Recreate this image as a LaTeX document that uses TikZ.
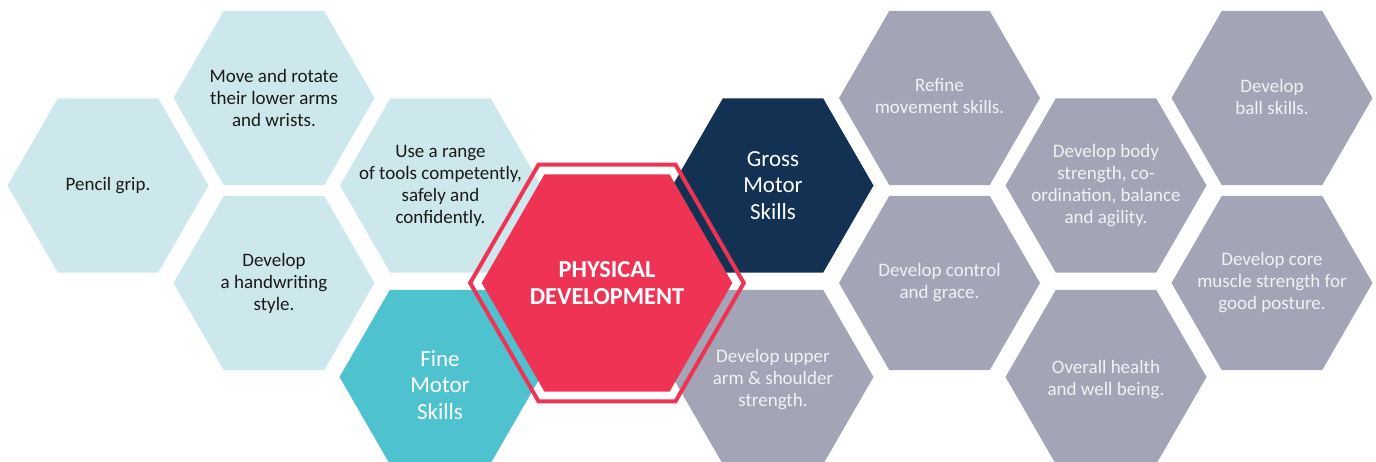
\documentclass[tikz,border=0pt]{standalone}
\usepackage{fontspec}
\setmainfont{Carlito}
\usetikzlibrary{shapes.geometric}
\definecolor{lteal}{HTML}{CDE8EC}
\definecolor{fteal}{HTML}{4EC3CF}
\definecolor{navy}{HTML}{133153}
\definecolor{pred}{HTML}{EE3354}
\definecolor{hgray}{HTML}{A3A4B6}
\definecolor{dtext}{HTML}{1A1A1A}
\definecolor{gtext}{HTML}{F2F2F6}
\begin{document}
\begin{tikzpicture}[x=1pt,y=-1pt,
  hexa/.style={regular polygon, regular polygon sides=6, minimum size=201pt, inner sep=0pt, outer sep=0pt, draw=none},
  light/.style={hexa, fill=lteal},
  grayhex/.style={hexa, fill=hgray},
  txt/.style={align=center, inner sep=0pt, font=\fontsize{19}{22}\selectfont, text=dtext},
  gtxt/.style={txt, text=gtext},
  bigtxt/.style={align=center, inner sep=0pt, font=\fontsize{23}{26.7}\selectfont, text=white},
  phystxt/.style={align=center, inner sep=0pt, font=\bfseries\fontsize{24.4}{27.5}\selectfont, text=white}]
\useasboundingbox (0,0) rectangle (1376,461);
% light teal hexagons
\node[light] (pg) at (108,185.5) {};
\node[light] (mr) at (274,98) {};
\node[light] (hw) at (274,283) {};
\node[light] (ur) at (440.5,185.5) {};
\node[hexa, fill=fteal] (fm) at (440,377) {};
% right side
\node[hexa, fill=navy] (gm) at (773,185.5) {};
\node[grayhex] (ua) at (773,377) {};
\node[grayhex] (rm) at (939.5,98) {};
\node[grayhex] (dc) at (939.5,283) {};
\node[grayhex] (bs) at (1106,185.5) {};
\node[grayhex] (oh) at (1106,377) {};
\node[grayhex] (bk) at (1272,98) {};
\node[grayhex] (cm) at (1272,283) {};
% central hexagon
\node[regular polygon, regular polygon sides=6, minimum size=273.6pt, inner sep=0pt, outer sep=0pt, draw=pred, line width=4pt] (pdo) at (607,283) {};
\node[hexa, minimum size=250.6pt, fill=pred] (pd) at (607,283) {};
% texts
\node[txt] at (pg) {Pencil grip.};
\node[txt] at (mr) {Move and rotate\\their lower arms\\and wrists.};
\node[txt] at (hw) {Develop\\a handwriting\\style.};
\node[txt] at (ur) {Use a range\\of tools competently,\\safely and\\confidently.};
\node[bigtxt] at ([yshift=-8pt]fm.center) {Fine\\Motor\\Skills};
\node[bigtxt] at (gm) {Gross\\Motor\\Skills};
\node[phystxt] at (pd) {PHYSICAL\\DEVELOPMENT};
\node[gtxt] at ([yshift=-3pt]ua.center) {Develop upper\\arm \& shoulder\\strength.};
\node[gtxt] at ([yshift=1.5pt]rm.center) {Refine\\movement skills.};
\node[gtxt] at (dc) {Develop control\\and grace.};
\node[gtxt] at (bs) {Develop body\\strength, co-\\ordination, balance\\and agility.};
\node[gtxt] at ([yshift=-3pt]oh.center) {Overall health\\and well being.};
\node[gtxt] at ([yshift=1.5pt]bk.center) {Develop\\ball skills.};
\node[gtxt] at (cm) {Develop core\\muscle strength for\\good posture.};
\end{tikzpicture}
\end{document}
